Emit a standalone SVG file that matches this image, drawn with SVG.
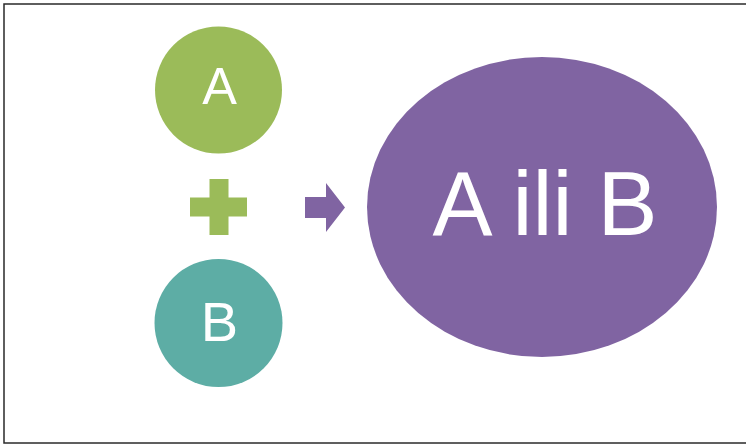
<svg xmlns="http://www.w3.org/2000/svg" width="746" height="444" viewBox="0 0 746 444">
<style>
.lbl{font-family:"Liberation Sans","Open Sans",Arial,sans-serif;fill:#fff;text-anchor:middle}
</style>
<rect x="0" y="0" width="746" height="444" fill="#fff"/>
<rect x="4" y="4" width="750" height="439" fill="none" stroke="#2a2a2a" stroke-width="1.5"/>
<g id="nodeA">
<circle cx="218.5" cy="90" r="63.5" fill="#9BBB59"/>
<text class="lbl" x="219.5" y="104" font-size="52">A</text>
</g>
<g id="plus">
<path d="M209.5 179H228.5V197.5H247V216.5H228.5V235H209.5V216.5H190V197.5H209.5Z" fill="#9BBB59"/>
</g>
<g id="nodeB">
<circle cx="218.5" cy="323" r="64" fill="#5DADA5"/>
<text class="lbl" x="219.5" y="341" font-size="56">B</text>
</g>
<g id="connectors">
<path d="M305 197H326V183L345 207.5L326 232V218H305Z" fill="#8064A2"/>
</g>
<g id="nodeAB">
<ellipse cx="542" cy="207" rx="175" ry="150" fill="#8064A2"/>
<text class="lbl" x="545" y="235" font-size="90">A ili B</text>
</g>
</svg>
